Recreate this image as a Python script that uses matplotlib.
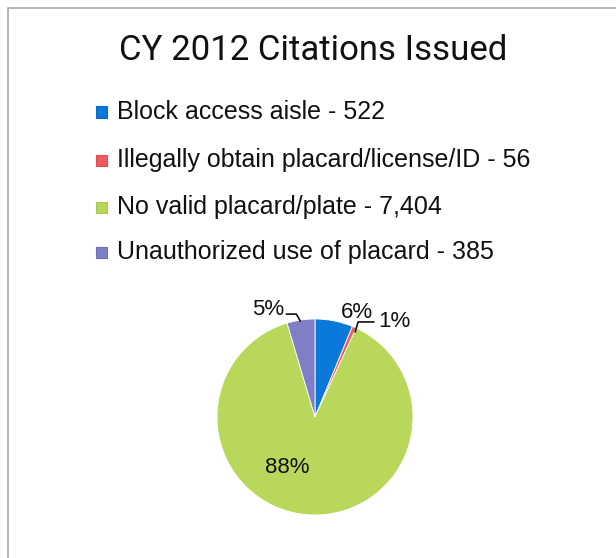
import matplotlib

matplotlib.use("Agg")
import matplotlib.pyplot as plt
from matplotlib.patches import Rectangle

# citation counts, CY 2012
categories = [
    "Block access aisle",
    "Illegally obtain placard/license/ID",
    "No valid placard/plate",
    "Unauthorized use of placard",
]
counts = [522, 56, 7404, 385]
colors = ["#0a78d8", "#ef5a5f", "#b9d75a", "#7e7fc6"]
edge_colors = ["#0a6cc4", "#e04c50", "#a9c94c", "#6f70b8"]

# label anchor points (data units of the pie, radius 1), same order as counts
label_pos = [(0.43, 1.07), (0.81, 0.97), (-0.28, -0.52), (-0.48, 1.10)]

total = sum(counts)
pcts = [f"{round(100 * c / total):.0f}%" for c in counts]

fig = plt.figure(figsize=(6.16, 5.58), dpi=100)
W, H = 616, 558

# frame of the chart area (runs off the right/bottom of the scan)
fig.patches.append(Rectangle((8 / W, -0.05), 1.2, 1 - 8 / H + 0.05,
                             transform=fig.transFigure, fill=False,
                             edgecolor="#a8a8a8", lw=1.2))

fig.text(119 / W, 1 - 50 / H, "CY 2012 Citations Issued",
         family=["Roboto", "DejaVu Sans"], fontsize=25,
         ha="left", va="center", color="#111111")

rows_y = [112, 160, 207, 252]
for name, n, c, ec, y in zip(categories, counts, colors, edge_colors, rows_y):
    fig.patches.append(Rectangle((96 / W, 1 - (y + 5.5) / H), 11 / W, 11 / H,
                                 transform=fig.transFigure, facecolor=c,
                                 edgecolor=ec, lw=0.8))
    fig.text(117 / W, 1 - y / H, f"{name} - {n:,}",
             family=["Liberation Sans", "DejaVu Sans"], fontsize=18,
             ha="left", va="center", color="#111111")

cx, cy, r = 315, 417, 98
ax = fig.add_axes([(cx - r) / W, (H - cy - r) / H, 2 * r / W, 2 * r / H])
ax.pie(counts, colors=colors, startangle=90, counterclock=False,
       wedgeprops=dict(edgecolor="white", linewidth=0.6))
ax.set_xlim(-1, 1)
ax.set_ylim(-1, 1)
ax.set_aspect("equal")
ax.axis("off")

for p, (lx, ly) in zip(pcts, label_pos):
    ax.text(lx, ly, p, family=["Liberation Sans", "DejaVu Sans"],
            fontsize=16, ha="center", va="center", color="#111111",
            clip_on=False)

# leader lines for the two small slices
ax.plot([0.41, 0.44, 0.60], [0.87, 0.97, 0.97], color="#111111", lw=1.2,
        clip_on=False)
ax.plot([-0.29, -0.19, -0.15], [1.05, 1.05, 0.98], color="#111111", lw=1.2,
        clip_on=False)

fig.savefig("out.png", dpi=100, facecolor="white")
plt.close(fig)
